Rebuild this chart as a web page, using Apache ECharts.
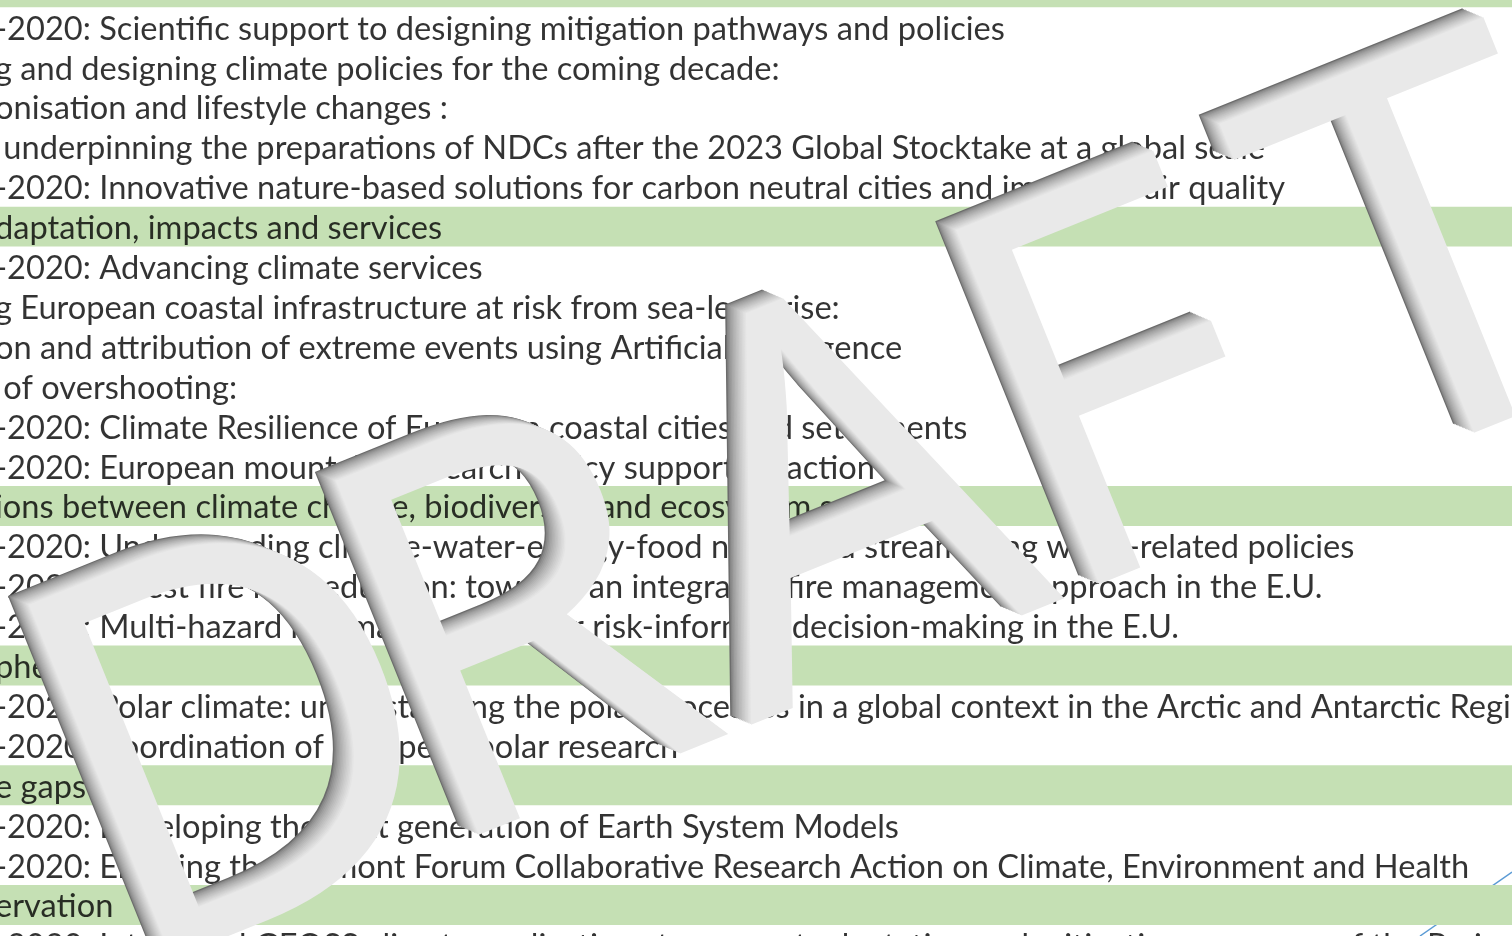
<!DOCTYPE html>
<html>
<head>
<meta charset="utf-8">
<title>Climate work programme topics</title>
<script src="https://cdn.jsdelivr.net/npm/echarts@6.0.0/dist/echarts.min.js"></script>
<style>
html, body { margin: 0; padding: 0; background: #fff; }
#chart { width: 1512px; height: 936px; }
</style>
</head>
<body>
<div id="chart"></div>
<script>
// table rows, top to bottom (the slide is cropped on the left, so texts start mid-word)
const rowLabels = [
    'Decarbonisation',
    '-2020: Scientific support to designing mitigation pathways and policies',
    'g and designing climate policies for the coming decade:',
    'onisation and lifestyle changes :',
    ' underpinning the preparations of NDCs after the 2023 Global Stocktake at a global scale',
    '-2020: Innovative nature-based solutions for carbon neutral cities and improved air quality',
    'daptation, impacts and services',
    '-2020: Advancing climate services',
    'g European coastal infrastructure at risk from sea-level rise:',
    'on and attribution of extreme events using Artificial Intelligence',
    ' of overshooting:',
    '-2020: Climate Resilience of European coastal cities and settlements',
    '-2020: European mountains research policy supporting action',
    'ions between climate change, biodiversity and ecosystem services',
    '-2020: Understanding climate-water-energy-food nexus and streamlining water-related policies',
    '-2020: Forest fire risk reduction: towards an integrated fire management approach in the E.U.',
    '-2020: Multi-hazard risk management for risk-informed decision-making in the E.U.',
    'phere',
    '-2020: Polar climate: understanding the polar processes in a global context in the Arctic and Antarctic Regions',
    '-2020: Coordination of European polar research',
    'e gaps',
    '-2020: Developing the next generation of Earth System Models',
    '-2020: Enabling the Belmont Forum Collaborative Research Action on Climate, Environment and Health',
    'ervation',
    '-2020: Integrated GEOSS climate applications to support adaptation and mitigation measures of the Paris Agreement'
];
// section header rows (green bands)
const headerRows = [0, 6, 13, 17, 20, 23];
const watermarkLetters = ['D', 'R', 'A', 'F', 'T'];

const PAGE_W = 1512;
const ROW_H = 39.9;
const TOP = -32.7;
const TEXT_X = -5;
const GREEN = '#c5e0b4';

// fit the body font so the first full topic line spans like on the slide
const ctx = document.createElement('canvas').getContext('2d');
ctx.font = '100px Lato';
const fontSize = 100 * (1005 - TEXT_X) / ctx.measureText(rowLabels[1]).width;

const rowIds = rowLabels.map((t, i) => 'r' + i);
const bandData = rowLabels.map((t, i) => headerRows.indexOf(i) >= 0 ? PAGE_W : '-');
const textData = rowLabels.map((t, i) => [TEXT_X, 'r' + i]);

// DRAFT watermark, laid out along its own rotated baseline
const WM_ANGLE = 22 * Math.PI / 180;
const WM_SIZE = 535;
const WM_MID = 785;
const wmCenters = [-74, 228, 578, 870, 1211];
const WM_STEPS = 14;
const WM_DEPTH = 16;

function wmLayer(fill, d, z) {
    return watermarkLetters.map((ch, i) => ({
        type: 'text',
        z: z,
        x: wmCenters[i] + d,
        y: WM_MID + d,
        style: {
            text: ch,
            fontSize: WM_SIZE,
            fontFamily: 'Open Sans',
            fontWeight: 400,
            fill: fill,
            align: 'center', verticalAlign: 'middle',
            textAlign: 'center', textVerticalAlign: 'middle'
        }
    }));
}
// bevel: a dark copy underneath, lighter copies stepped down-right on top
let wmChildren = [];
for (let k = 0; k <= WM_STEPS; k++) {
    const t = k / WM_STEPS;
    const g = Math.round(108 + (233 - 108) * Math.pow(t, 0.6));
    wmChildren = wmChildren.concat(wmLayer('rgb(' + g + ',' + g + ',' + g + ')', WM_DEPTH * t, 100 + k));
}

const chart = echarts.init(document.getElementById('chart'), null, { renderer: 'canvas' });
chart.setOption({
    backgroundColor: '#ffffff',
    animation: false,
    grid: {
        left: TEXT_X * 2, right: 0,
        top: TOP, height: ROW_H * rowLabels.length,
        containLabel: false,
        outerBoundsMode: 'none'
    },
    xAxis: {
        type: 'value', min: TEXT_X * 2, max: PAGE_W,
        show: false
    },
    yAxis: {
        type: 'category', data: rowIds, inverse: true,
        show: false
    },
    series: [
        {
            type: 'bar',
            data: bandData,
            barWidth: '100%',
            barCategoryGap: 0,
            itemStyle: { color: GREEN },
            silent: true,
            z: 2
        },
        {
            type: 'scatter',
            data: textData,
            symbolSize: 0,
            itemStyle: { color: 'transparent' },
            silent: true,
            z: 3,
            label: {
                show: true,
                position: 'right',
                distance: 0,
                offset: [0, 2],
                color: '#000',
                fontFamily: 'Lato',
                fontSize: fontSize,
                formatter: p => rowLabels[p.dataIndex]
            }
        }
    ],
    graphic: [
        {
            type: 'line', z: 0, silent: true,
            shape: { x1: 1420, y1: 936, x2: 1512, y2: 872 },
            style: { stroke: '#5b9bd5', lineWidth: 1.5 }
        },
        {
            type: 'group', z: 100, silent: true,
            x: 0, y: 0, rotation: WM_ANGLE,
            children: wmChildren
        }
    ]
});
</script>
</body>
</html>
